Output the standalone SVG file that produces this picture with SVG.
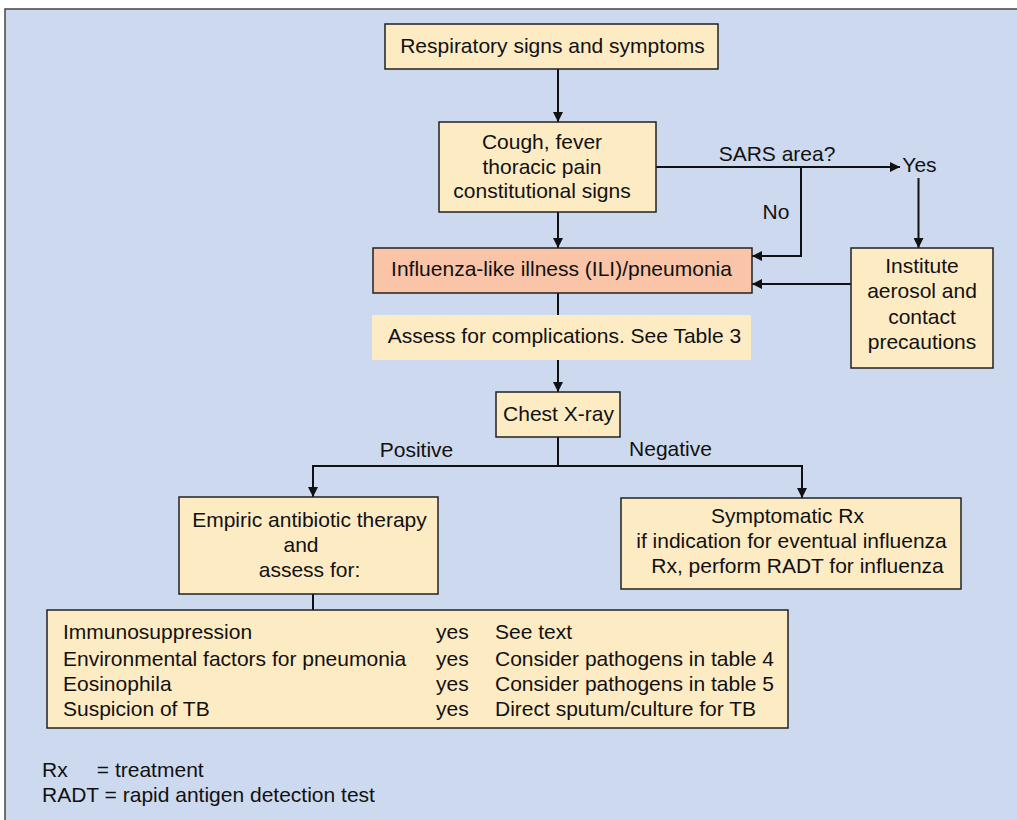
<svg xmlns="http://www.w3.org/2000/svg" width="1017" height="820" viewBox="0 0 1017 820">
<defs>
<marker id="ah" viewBox="0 0 10 10" refX="10" refY="5" markerWidth="10" markerHeight="10" markerUnits="userSpaceOnUse" orient="auto"><path d="M0,0 L10,5 L0,10 z" fill="#111"/></marker>
<style>
text{font-family:"Liberation Sans",Arial,sans-serif;font-size:21px;fill:#111}
.c{text-anchor:middle}
.box{fill:#fdebc4;stroke:#222;stroke-width:1.5}
.ln{fill:none;stroke:#111;stroke-width:2}
.ar{fill:none;stroke:#111;stroke-width:2;marker-end:url(#ah)}
</style>
</defs>
<rect x="0" y="0" width="1017" height="820" fill="#ffffff"/>
<rect x="5" y="9" width="1020" height="820" fill="#cdd9ef" stroke="#444" stroke-width="1.5"/>
<g id="connectors">
<path class="ar" d="M558,69 V122"/>
<path class="ar" d="M558,212 V248"/>
<path class="ar" d="M656,167 H900"/>
<path class="ar" d="M801,167 V256 H752"/>
<path class="ar" d="M918.5,178 V248"/>
<path class="ar" d="M851,284 H752"/>
<path class="ln" d="M558,293 V315"/>
<path class="ar" d="M558,360 V392"/>
<path class="ln" d="M558,437 V466 M312,466 H803"/>
<path class="ar" d="M313,466 V497"/>
<path class="ar" d="M802,466 V498"/>
<path class="ln" d="M313,594 V610"/>
</g>
<g id="labels">
<text x="777" y="161" class="c">SARS area?</text>
<text x="919.5" y="172" class="c">Yes</text>
<text x="776" y="219" class="c">No</text>
<text x="416.5" y="457" class="c">Positive</text>
<text x="670.5" y="456" class="c">Negative</text>
</g>
<g id="n1">
<rect class="box" x="385" y="24" width="333" height="45"/>
<text x="552.5" y="53" class="c">Respiratory signs and symptoms</text>
</g>
<g id="n2">
<rect class="box" x="439" y="122" width="217" height="90"/>
<text x="542" y="149" class="c">Cough, fever</text>
<text x="542" y="174" class="c">thoracic pain</text>
<text x="542" y="198" class="c">constitutional signs</text>
</g>
<g id="n3">
<rect x="373" y="248" width="379" height="45" fill="#f9c4a8" stroke="#222" stroke-width="1.5"/>
<text x="561.5" y="276" class="c">Influenza-like illness (ILI)/pneumonia</text>
</g>
<g id="n4">
<rect class="box" x="851" y="248" width="142" height="120"/>
<text x="922" y="273" class="c">Institute</text>
<text x="922" y="298" class="c">aerosol and</text>
<text x="922" y="324" class="c">contact</text>
<text x="922" y="349" class="c">precautions</text>
</g>
<g id="n5">
<rect x="372" y="315" width="379" height="45" fill="#fdebc4"/>
<text x="564.5" y="343" class="c">Assess for complications. See Table 3</text>
</g>
<g id="n6">
<rect class="box" x="496" y="392" width="124" height="45"/>
<text x="558.5" y="421" class="c">Chest X-ray</text>
</g>
<g id="n7">
<rect class="box" x="179" y="497" width="259" height="97"/>
<text x="309.5" y="527" class="c">Empiric antibiotic therapy</text>
<text x="301" y="552" class="c">and</text>
<text x="309.5" y="577" class="c">assess for:</text>
</g>
<g id="n8">
<rect class="box" x="621" y="498" width="340" height="91"/>
<text x="787.5" y="523" class="c">Symptomatic Rx</text>
<text x="791.5" y="548" class="c">if indication for eventual influenza</text>
<text x="797.5" y="573" class="c">Rx, perform RADT for influenza</text>
</g>
<g id="n9">
<rect class="box" x="47" y="610" width="741" height="118"/>
<text x="63" y="639">Immunosuppression</text>
<text x="63" y="666">Environmental factors for pneumonia</text>
<text x="63" y="691">Eosinophila</text>
<text x="63" y="716">Suspicion of TB</text>
<text x="436" y="639">yes</text>
<text x="436" y="666">yes</text>
<text x="436" y="691">yes</text>
<text x="436" y="716">yes</text>
<text x="495" y="639">See text</text>
<text x="495" y="666">Consider pathogens in table 4</text>
<text x="495" y="691">Consider pathogens in table 5</text>
<text x="495" y="716">Direct sputum/culture for TB</text>
</g>
<g id="legend">
<text x="42" y="777" xml:space="preserve">Rx     = treatment</text>
<text x="42" y="802">RADT = rapid antigen detection test</text>
</g>
</svg>
